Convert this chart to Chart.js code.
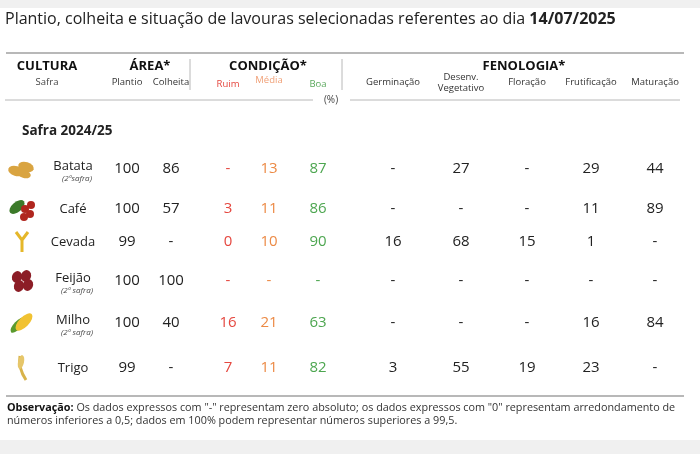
<!DOCTYPE html>
<html><head><meta charset="utf-8">
<script src="https://cdn.jsdelivr.net/npm/chart.js@4"></script>
<style>body{margin:0;background:#fff}canvas{display:block}</style>
</head><body>
<canvas id="c" width="700" height="454"></canvas>
<script>
// Table data
const crops = ['Batata', 'Café', 'Cevada', 'Feijão', 'Milho', 'Trigo'];
const safraNotes = ['(2ªsafra)', '', '', '(2ª safra)', '(2ª safra)', ''];
const columns = ['Plantio', 'Colheita', 'Ruim', 'Média', 'Boa', 'Germinação', 'Desenv.\nVegetativo', 'Floração', 'Frutificação', 'Maturação'];
const batata = ['100', '86', '-', '13', '87', '-', '27', '-', '29', '44'];
const cafe   = ['100', '57', '3', '11', '86', '-', '-', '-', '11', '89'];
const cevada = ['99', '-', '0', '10', '90', '16', '68', '15', '1', '-'];
const feijao = ['100', '100', '-', '-', '-', '-', '-', '-', '-', '-'];
const milho  = ['100', '40', '16', '21', '63', '-', '-', '-', '16', '84'];
const trigo  = ['99', '-', '7', '11', '82', '3', '55', '19', '23', '-'];
const rows = [batata, cafe, cevada, feijao, milho, trigo];

// layout
const colX = [127, 171, 228, 269, 318, 393, 461, 527, 591, 655];
const rowY = [169, 209, 242, 281, 323, 368];
const valColor = ['#222', '#222', '#e5473f', '#ec8a45', '#4da650', '#222', '#222', '#222', '#222', '#222'];

const cells = [];
rows.forEach((r, ri) => r.forEach((v, ci) => cells.push({x: colX[ci], y: rowY[ri], v: v, c: ci})));

const F = '"Open Sans", "DejaVu Sans", sans-serif';

function icon(ctx, name, x, y) {
  ctx.save();
  if (name === 'Batata') {
    ctx.fillStyle = '#d9a441';
    [[-6, 2, 8, 5], [4, -2, 8, 5], [2, 5, 7, 4]].forEach(e => {
      ctx.beginPath(); ctx.ellipse(x + e[0], y + e[1], e[2], e[3], 0.3, 0, 7); ctx.fill();
    });
  } else if (name === 'Café') {
    ctx.fillStyle = '#3c7a2a';
    ctx.beginPath(); ctx.ellipse(x - 5, y - 2, 9, 5, -0.7, 0, 7); ctx.fill();
    ctx.fillStyle = '#b0261e';
    [[3, 0], [8, 5], [2, 8], [9, -4]].forEach(p => { ctx.beginPath(); ctx.arc(x + p[0], y + p[1], 4, 0, 7); ctx.fill(); });
  } else if (name === 'Cevada') {
    ctx.strokeStyle = '#e5b72a'; ctx.lineWidth = 3;
    ctx.beginPath(); ctx.moveTo(x, y + 10); ctx.lineTo(x, y - 2); ctx.lineTo(x - 6, y - 10);
    ctx.moveTo(x, y - 2); ctx.lineTo(x + 6, y - 10); ctx.stroke();
  } else if (name === 'Feijão') {
    ctx.fillStyle = '#8c1d26';
    [[-5, -4], [4, -5], [-3, 5], [6, 4]].forEach(p => { ctx.beginPath(); ctx.ellipse(x + p[0], y + p[1], 5, 6, 0.4, 0, 7); ctx.fill(); });
  } else if (name === 'Milho') {
    ctx.fillStyle = '#5b9a2e';
    ctx.beginPath(); ctx.ellipse(x - 4, y + 2, 10, 4, -0.8, 0, 7); ctx.fill();
    ctx.fillStyle = '#f1c232';
    ctx.beginPath(); ctx.ellipse(x + 2, y - 1, 11, 5, -0.8, 0, 7); ctx.fill();
  } else if (name === 'Trigo') {
    ctx.strokeStyle = '#d8b34a'; ctx.lineWidth = 3;
    ctx.beginPath(); ctx.moveTo(x + 4, y + 12); ctx.quadraticCurveTo(x - 4, y, x - 2, y - 12); ctx.stroke();
    ctx.fillStyle = '#e6c66a';
    ctx.beginPath(); ctx.ellipse(x - 1, y - 6, 3, 7, 0.2, 0, 7); ctx.fill();
  }
  ctx.restore();
}

function txt(ctx, s, x, y, font, color, align) {
  ctx.font = font; ctx.fillStyle = color; ctx.textAlign = align || 'center'; ctx.textBaseline = 'middle';
  ctx.fillText(s, x, y);
}

const tablePlugin = {
  id: 'table',
  beforeDraw(chart) {
    const ctx = chart.ctx, xs = chart.scales.x, ys = chart.scales.y;
    const X = v => xs.getPixelForValue(v), Y = v => ys.getPixelForValue(v);
    ctx.save();
    ctx.fillStyle = '#f0f0f0';
    ctx.fillRect(0, 0, 700, 8); ctx.fillRect(0, 440, 700, 14);
    ctx.fillStyle = '#fff'; ctx.fillRect(0, 8, 700, 432);
    // title
    ctx.font = '16px ' + F; ctx.fillStyle = '#222'; ctx.textAlign = 'left'; ctx.textBaseline = 'middle';
    const t = 'Plantio, colheita e situação de lavouras selecionadas referentes ao dia ';
    ctx.fillText(t, X(5), Y(19));
    const w = ctx.measureText(t).width;
    txt(ctx, '14/07/2025', X(5) + w, Y(19), 'bold 16px ' + F, '#222', 'left');
    // lines
    ctx.strokeStyle = '#b8b8b8'; ctx.lineWidth = 2;
    ctx.beginPath(); ctx.moveTo(X(6), Y(53)); ctx.lineTo(X(684), Y(53)); ctx.stroke();
    ctx.beginPath(); ctx.moveTo(X(6), Y(396)); ctx.lineTo(X(684), Y(396)); ctx.stroke();
    ctx.lineWidth = 1;
    ctx.beginPath(); ctx.moveTo(X(5), Y(100)); ctx.lineTo(X(313), Y(100));
    ctx.moveTo(X(350), Y(100)); ctx.lineTo(X(680), Y(100));
    ctx.moveTo(X(190), Y(59)); ctx.lineTo(X(190), Y(90));
    ctx.moveTo(X(342), Y(59)); ctx.lineTo(X(342), Y(90)); ctx.stroke();
    txt(ctx, '(%)', X(331), Y(100), '10px ' + F, '#444');
    // headers
    const hb = 'bold 13px ' + F;
    txt(ctx, 'CULTURA', X(47), Y(66), hb, '#111');
    txt(ctx, 'ÁREA*', X(150), Y(66), hb, '#111');
    txt(ctx, 'CONDIÇÃO*', X(268), Y(66), hb, '#111');
    txt(ctx, 'FENOLOGIA*', X(524), Y(66), hb, '#111');
    const hs = '9.5px ' + F;
    txt(ctx, 'Safra', X(47), Y(82), hs, '#444');
    const hc = ['#333', '#333', '#e5473f', '#f0a077', '#5aa85c', '#333', '#333', '#333', '#333', '#333'];
    columns.forEach((c, i) => {
      const parts = c.split('\n');
      const dy = i === 3 ? -2 : (i >= 2 && i <= 4 ? 2 : 0);
      if (parts.length > 1) {
        txt(ctx, parts[0], X(colX[i]), Y(77), hs, hc[i]);
        txt(ctx, parts[1], X(colX[i]), Y(88), hs, hc[i]);
      } else txt(ctx, c, X(colX[i]), Y(82 + dy), hs, hc[i]);
    });
    txt(ctx, 'Safra 2024/25', X(22), Y(131), 'bold 13.5px ' + F, '#222', 'left');
    // crops
    crops.forEach((c, i) => {
      icon(ctx, c, X(22), Y(rowY[i]));
      const off = safraNotes[i] ? -3 : 0;
      txt(ctx, c, X(73), Y(rowY[i] + off), '13px ' + F, '#222');
      if (safraNotes[i]) txt(ctx, safraNotes[i], X(77), Y(rowY[i] + 10), 'italic 8px ' + F, '#444');
    });
    // footnote
    ctx.font = 'bold 10.8px ' + F; ctx.fillStyle = '#111'; ctx.textAlign = 'left';
    ctx.fillText('Observação:', X(7), Y(408));
    const ow = ctx.measureText('Observação: ').width;
    txt(ctx, 'Os dados expressos com "-" representam zero absoluto; os dados expressos com "0" representam arredondamento de', X(7) + ow, Y(408), '10.8px ' + F, '#333', 'left');
    txt(ctx, 'números inferiores a 0,5; dados em 100% podem representar números superiores a 99,5.', X(7), Y(421), '10.8px ' + F, '#333', 'left');
    ctx.restore();
  },
  afterDatasetsDraw(chart) {
    const ctx = chart.ctx;
    const meta = chart.getDatasetMeta(0);
    meta.data.forEach((pt, i) => {
      const d = cells[i];
      txt(ctx, d.v, pt.x, pt.y, '15px ' + F, valColor[d.c]);
    });
  }
};

new Chart(document.getElementById('c'), {
  type: 'scatter',
  data: { datasets: [{ data: cells, pointRadius: 0, pointHoverRadius: 0 }] },
  options: {
    responsive: false, animation: false,
    layout: { padding: 0 },
    plugins: { legend: { display: false }, tooltip: { enabled: false } },
    scales: {
      x: { type: 'linear', min: 0, max: 700, display: false },
      y: { type: 'linear', min: 0, max: 454, reverse: true, display: false }
    }
  },
  plugins: [tablePlugin]
});
</script>
</body></html>
